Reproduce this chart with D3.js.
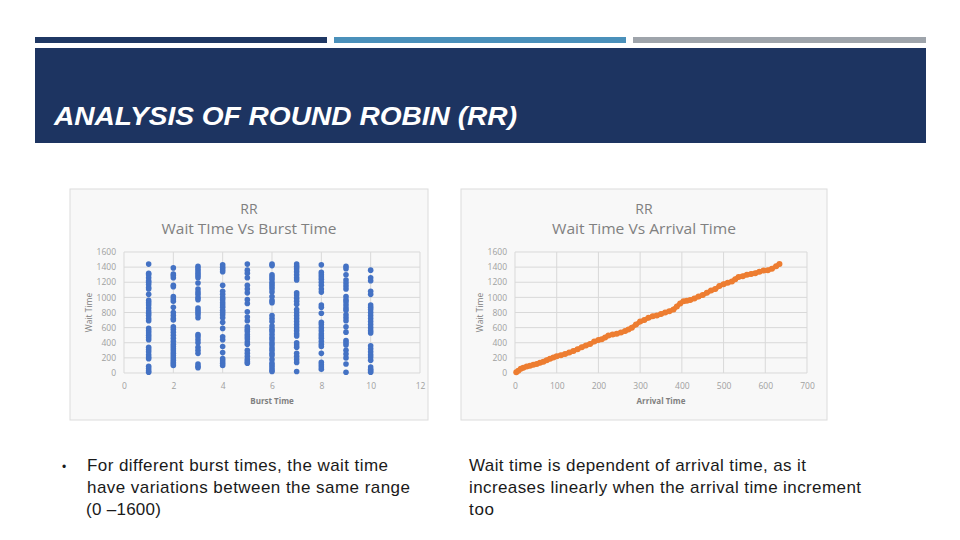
<!DOCTYPE html>
<html>
<head>
<meta charset="utf-8">
<script src="https://cdn.jsdelivr.net/npm/d3@7"></script>
<style>
  html, body { margin: 0; padding: 0; background: #ffffff; }
  svg { display: block; }
</style>
</head>
<body>
<svg id="chart" width="960" height="540"></svg>
<script>
// ---------------- DATA ----------------
const slideTitle = "ANALYSIS OF ROUND ROBIN (RR)";

// Left chart: Wait Time vs Burst Time (scatter by burst time)
const burstTimes = [1, 2, 3, 4, 5, 6, 7, 8, 9, 10];
const waitByBurst1 = [1440,1320,1300,1260,1220,1200,1170,1130,1110,1040,960,930,900,860,820,790,760,720,690,590,560,530,500,470,440,340,310,280,240,210,190,90,60,30,10];
const waitByBurst2 = [1390,1310,1290,1260,1160,1140,1010,980,950,870,800,760,720,700,610,580,540,500,460,420,380,350,320,290,260,230,200,170,140,120,100];
const waitByBurst3 = [1410,1380,1350,1320,1290,1260,1190,1110,1070,1040,1000,970,860,830,800,770,730,510,480,440,400,340,300,260,120,90,70];
const waitByBurst4 = [1430,1400,1370,1340,1160,1080,1040,1000,970,930,900,870,830,800,770,730,670,590,480,440,350,270,190,160,130,100];
const waitByBurst5 = [1440,1360,1320,1260,1160,1110,1060,970,920,810,740,690,610,580,550,510,480,450,410,380,300,260,220,180,150,130];
const waitByBurst6 = [1440,1420,1300,1270,1240,1200,1170,1140,1110,1070,1010,960,930,760,720,680,620,580,550,510,470,440,400,370,330,300,260,230,180,130,100,70,40,20];
const waitByBurst7 = [1440,1410,1380,1340,1300,1260,1230,1060,1030,990,950,910,840,800,760,720,680,640,600,560,520,490,400,370,340,260,220,180,140,20];
const waitByBurst8 = [1430,1330,1300,1270,1240,1200,1160,1110,1070,900,870,790,670,640,600,560,520,490,460,420,380,350,260,140,110,80,50];
const waitByBurst9 = [1410,1380,1300,1230,1190,1150,1110,1010,970,940,900,860,830,770,730,690,610,540,430,400,370,300,250,200,120,10];
const waitByBurst10 = [1360,1260,1220,1080,1040,900,870,840,800,760,720,680,640,600,560,530,360,320,280,240,210,170,80,50,30,10];
const waitByBurst = [waitByBurst1, waitByBurst2, waitByBurst3, waitByBurst4, waitByBurst5,
                     waitByBurst6, waitByBurst7, waitByBurst8, waitByBurst9, waitByBurst10];

// Right chart: Wait Time vs Arrival Time
const arrivalTimes = [3,8,14,20,28,36,44,52,60,68,76,84,92,100,110,120,130,140,150,160,170,180,190,200,208,216,224,234,244,254,264,272,280,290,300,310,320,330,340,350,360,370,380,388,396,404,412,420,430,440,450,460,470,480,490,500,510,520,528,536,546,556,566,576,586,596,606,616,626,634];
const waitByArrival = [10,30,55,70,85,95,110,120,135,150,170,190,205,220,235,250,270,290,315,340,365,385,415,435,445,470,495,510,520,535,555,575,600,640,680,700,730,750,760,780,800,815,840,880,920,950,955,965,985,1010,1030,1060,1090,1110,1150,1175,1195,1210,1240,1270,1280,1300,1310,1320,1340,1355,1360,1380,1410,1440];

const yTicks = [0, 200, 400, 600, 800, 1000, 1200, 1400, 1600];
const burstTicks = [0, 2, 4, 6, 8, 10, 12];
const arrivalTicks = [0, 100, 200, 300, 400, 500, 600, 700];

const leftText = ["For different burst times, the wait time", "have variations between the same range", "(0 \u20131600)"];
const rightText = ["Wait time is dependent of arrival time, as it", "increases linearly when the arrival time increment", "too"];

// ---------------- DRAW ----------------
const svg = d3.select("#chart");
const FONT = "'Liberation Sans', Arial, sans-serif";
const FONT2 = "'Open Sans', 'DejaVu Sans', sans-serif";

// top decorative bars
svg.append("rect").attr("x", 35).attr("y", 37).attr("width", 292).attr("height", 6).attr("fill", "#1f3864");
svg.append("rect").attr("x", 334).attr("y", 37).attr("width", 292).attr("height", 6).attr("fill", "#4a90ba");
svg.append("rect").attr("x", 633).attr("y", 37).attr("width", 293).attr("height", 6).attr("fill", "#9ea4ab");

// header band
svg.append("rect").attr("x", 35).attr("y", 48).attr("width", 891).attr("height", 95).attr("fill", "#1d3461");
svg.append("text").attr("x", 54).attr("y", 125)
  .attr("font-family", FONT).attr("font-style", "italic").attr("font-weight", "bold")
  .attr("font-size", 25).attr("fill", "#ffffff")
  .attr("textLength", 463).attr("lengthAdjust", "spacingAndGlyphs")
  .text(slideTitle);

function drawPanel(cfg) {
  const g = svg.append("g");
  g.append("rect").attr("x", cfg.box[0]).attr("y", cfg.box[1]).attr("width", cfg.box[2]).attr("height", cfg.box[3])
    .attr("fill", "#f8f8f8").attr("stroke", "#dcdcdc").attr("stroke-width", 1);

  const x = d3.scaleLinear().domain(cfg.xDomain).range(cfg.xRange);
  const y = d3.scaleLinear().domain([0, 1600]).range([373, 252]);

  // gridlines
  g.append("g").selectAll("line.h").data(yTicks).join("line")
    .attr("x1", cfg.xRange[0]).attr("x2", cfg.xRange[1])
    .attr("y1", d => y(d)).attr("y2", d => y(d))
    .attr("stroke", "#d9d9d9").attr("stroke-width", 1);
  g.append("g").selectAll("line.v").data(cfg.xTicks.slice(1)).join("line")
    .attr("x1", d => x(d)).attr("x2", d => x(d))
    .attr("y1", y(0)).attr("y2", y(1600))
    .attr("stroke", "#d9d9d9").attr("stroke-width", 1);
  g.append("line").attr("x1", x(0)).attr("x2", x(0)).attr("y1", y(0)).attr("y2", y(1600))
    .attr("stroke", "#d9d9d9");

  // axes via d3
  const yAxis = d3.axisLeft(y).tickValues(yTicks).tickFormat(d3.format("d")).tickSize(0).tickPadding(8);
  const ya = g.append("g").attr("transform", `translate(${x(0)},0)`).call(yAxis);
  ya.select(".domain").remove();
  ya.selectAll("text").attr("font-family", FONT2).attr("font-size", 8.5).attr("fill", "#a0a0a0");

  const xAxis = d3.axisBottom(x).tickValues(cfg.xTicks).tickFormat(d3.format("d")).tickSize(0).tickPadding(10);
  const xa = g.append("g").attr("transform", `translate(0,${y(0)})`).call(xAxis);
  xa.select(".domain").remove();
  xa.selectAll("text").attr("font-family", FONT2).attr("font-size", 8.5).attr("fill", "#a0a0a0");

  // titles
  const cx = cfg.box[0] + cfg.box[2] / 2;
  g.append("text").attr("x", cx).attr("y", 214).attr("text-anchor", "middle")
    .attr("font-family", FONT2).attr("font-size", 14).attr("fill", "#808080").text("RR");
  g.append("text").attr("x", cx).attr("y", 234).attr("text-anchor", "middle")
    .attr("font-family", FONT2).attr("font-size", 15).attr("fill", "#808080")
    .attr("textLength", cfg.titleLen).attr("lengthAdjust", "spacingAndGlyphs").text(cfg.title);

  g.append("text").attr("x", (cfg.xRange[0] + cfg.xRange[1]) / 2).attr("y", 404).attr("text-anchor", "middle")
    .attr("font-family", FONT2).attr("font-size", 8).attr("font-weight", "bold").attr("fill", "#808080").text(cfg.xLabel);
  g.append("text").attr("transform", `translate(${cfg.box[0] + 22},${(y(0) + y(1600)) / 2}) rotate(-90)`)
    .attr("text-anchor", "middle")
    .attr("font-family", FONT2).attr("font-size", 8.5).attr("fill", "#808080").text("Wait Time");

  return { g, x, y };
}

// Left panel
const L = drawPanel({
  box: [70, 189, 358, 231], xDomain: [0, 12], xRange: [124, 420], xTicks: burstTicks,
  title: "Wait TIme Vs Burst Time", titleLen: 175, xLabel: "Burst Time"
});
const leftPoints = [];
burstTimes.forEach((b, i) => waitByBurst[i].forEach(w => leftPoints.push({ b, w })));
L.g.append("g").selectAll("circle").data(leftPoints).join("circle")
  .attr("cx", d => L.x(d.b)).attr("cy", d => L.y(d.w)).attr("r", 2.8)
  .attr("fill", "#4472c4");

// Right panel
const R = drawPanel({
  box: [461, 189, 366, 231], xDomain: [0, 700], xRange: [515, 807], xTicks: arrivalTicks,
  title: "Wait Time Vs Arrival Time", titleLen: 184, xLabel: "Arrival Time"
});
const rightPoints = arrivalTimes.map((a, i) => ({ a, w: waitByArrival[i] }));
R.g.append("path").datum(rightPoints)
  .attr("d", d3.line().x(d => R.x(d.a)).y(d => R.y(d.w)))
  .attr("fill", "none").attr("stroke", "#ed7d31").attr("stroke-width", 4.5).attr("stroke-linejoin", "round");
R.g.append("g").selectAll("circle").data(rightPoints).join("circle")
  .attr("cx", d => R.x(d.a)).attr("cy", d => R.y(d.w)).attr("r", 3)
  .attr("fill", "#ed7d31");

// bottom text
const tg = svg.append("g").attr("font-family", FONT).attr("font-size", 17).attr("fill", "#1a1a1a");
tg.append("text").attr("x", 62).attr("y", 471).text("\u2022").attr("font-size", 12);
const leftLens = [301, 323, 75];
const rightLens = [337, 392, 25];
leftText.forEach((t, i) => tg.append("text").attr("x", i === 2 ? 86 : 87).attr("y", 471 + i * 22)
  .attr("textLength", leftLens[i]).attr("lengthAdjust", "spacing").text(t));
rightText.forEach((t, i) => tg.append("text").attr("x", 469).attr("y", 471 + i * 22)
  .attr("textLength", rightLens[i]).attr("lengthAdjust", "spacing").text(t));
</script>
</body>
</html>
